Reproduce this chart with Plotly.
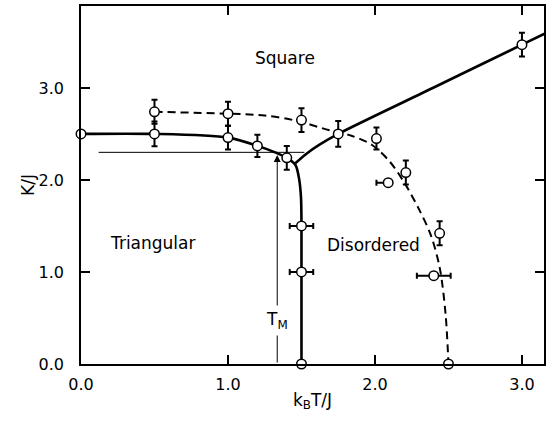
import plotly.graph_objects as go

# ---- phase boundary guide curves (k_B T/J, K/J) ----
tri_curve_t = [0.0, 0.5, 1.0, 1.2, 1.4, 1.46, 1.485, 1.497, 1.5, 1.5]
tri_curve_k = [2.5, 2.5, 2.46, 2.37, 2.24, 2.16, 2.0, 1.8, 1.5, 0.0]

sq_curve_t = [1.45, 1.53, 1.62, 1.75, 2.4, 3.0, 3.2]
sq_curve_k = [2.17, 2.28, 2.38, 2.5, 3.004, 3.47, 3.625]

dis_curve_t = [0.5, 1.0, 1.25, 1.46, 1.69, 1.84, 1.98, 2.1, 2.2, 2.3, 2.38, 2.44, 2.48, 2.5]
dis_curve_k = [2.74, 2.72, 2.70, 2.645, 2.54, 2.48, 2.38, 2.2, 1.97, 1.68, 1.4, 1.05, 0.55, 0.0]

# ---- simulation points ----
# solid-boundary points with vertical error bars
solid_t = [0.5, 1.0, 1.2, 1.4, 1.75, 3.0]
solid_k = [2.5, 2.46, 2.37, 2.24, 2.5, 3.47]
solid_dk = [0.135, 0.13, 0.12, 0.13, 0.14, 0.13]

# dashed-boundary points with vertical error bars
dash_t = [0.5, 1.0, 1.5, 2.01, 2.21, 2.44]
dash_k = [2.74, 2.72, 2.65, 2.45, 2.08, 1.42]
dash_dk = [0.13, 0.13, 0.13, 0.12, 0.13, 0.13]

# points with horizontal (temperature) error bars
hpts_t = [1.5, 1.5, 2.4]
hpts_k = [1.5, 1.0, 0.96]
hpts_dt = [0.08, 0.08, 0.115]

# point with a one-sided temperature error bar
one_t = [2.09]
one_k = [1.97]
one_dt_minus = [0.08]

# exact points without error bars
exact_t = [0.0, 1.5, 2.5]
exact_k = [2.5, 0.0, 0.0]

# melting temperature marker
tm_t = 1.335
tm_k = 2.27
tm_ref_k = 2.30
tm_ref_t = [0.12, 1.52]
tm_label_k = 0.47

# ---- axis ticks ----
x_ticks = [0.0, 1.0, 2.0, 3.0]
x_ticklabels = ["0.0", "1.0", "2.0", "3.0"]
y_ticks = [0.0, 1.0, 2.0, 3.0]
y_ticklabels = ["0.0", "1.0", "2.0", "3.0"]

FONT = "DejaVu Sans"
marker = dict(symbol="circle", size=9.5, color="white", line=dict(color="black", width=1.5))

fig = go.Figure()

# thin reference line at T_M level
fig.add_trace(go.Scatter(x=tm_ref_t, y=[tm_ref_k, tm_ref_k], mode="lines",
                         line=dict(color="black", width=1), hoverinfo="skip"))

# boundaries
fig.add_trace(go.Scatter(x=dis_curve_t, y=dis_curve_k, mode="lines",
                         line=dict(color="black", width=2, dash="8px,5px", shape="spline", smoothing=0.9)))
fig.add_trace(go.Scatter(x=tri_curve_t, y=tri_curve_k, mode="lines",
                         line=dict(color="black", width=2.6, shape="spline", smoothing=0.8)))
fig.add_trace(go.Scatter(x=sq_curve_t, y=sq_curve_k, mode="lines",
                         line=dict(color="black", width=2.6, shape="spline", smoothing=0.8)))

# data points
fig.add_trace(go.Scatter(x=solid_t, y=solid_k, mode="markers", marker=marker,
                         error_y=dict(type="data", array=solid_dk, color="black", thickness=2, width=3)))
fig.add_trace(go.Scatter(x=dash_t, y=dash_k, mode="markers", marker=marker,
                         error_y=dict(type="data", array=dash_dk, color="black", thickness=2, width=3)))
fig.add_trace(go.Scatter(x=hpts_t, y=hpts_k, mode="markers", marker=marker,
                         error_x=dict(type="data", array=hpts_dt, color="black", thickness=2, width=3)))
fig.add_trace(go.Scatter(x=one_t, y=one_k, mode="markers", marker=marker,
                         error_x=dict(type="data", symmetric=False, array=[0.0],
                                      arrayminus=one_dt_minus, color="black", thickness=2, width=3)))
fig.add_trace(go.Scatter(x=exact_t, y=exact_k, mode="markers", marker=marker, cliponaxis=False))

# arrow marking T_M
fig.add_annotation(x=tm_t, y=tm_k, ax=tm_t, ay=0.0, xref="x", yref="y", axref="x", ayref="y",
                   text="", showarrow=True, arrowhead=2, arrowsize=1.4, arrowwidth=1, arrowcolor="black")
fig.add_annotation(x=tm_t, y=tm_label_k, xref="x", yref="y", text="T<sub>M</sub>", showarrow=False,
                   bgcolor="white", borderpad=3, font=dict(family=FONT, size=17, color="black"))

# phase labels
for txt, tx, ty in [("Square", 1.39, 3.33), ("Triangular", 0.49, 1.32), ("Disordered", 1.99, 1.29)]:
    fig.add_annotation(x=tx, y=ty, xref="x", yref="y", text=txt, showarrow=False,
                       font=dict(family=FONT, size=17, color="black"))

axis_common = dict(showline=True, linecolor="black", linewidth=1.5, mirror="ticks",
                   ticks="inside", ticklen=9, tickwidth=1.5, tickcolor="black",
                   showgrid=False, zeroline=False,
                   tickfont=dict(family=FONT, size=16, color="black"))

fig.update_xaxes(range=[0, 3.15], tickvals=x_ticks, ticktext=x_ticklabels,
                 ticklabelstandoff=5,
                 title=dict(text="k<sub>B</sub>T/J", font=dict(family=FONT, size=17, color="black"), standoff=1),
                 **axis_common)
fig.update_yaxes(range=[0, 3.89], tickvals=y_ticks, ticktext=y_ticklabels,
                 ticklabelstandoff=12,
                 title=dict(text="K/J", font=dict(family=FONT, size=17, color="black"), standoff=0),
                 **axis_common)

fig.update_layout(width=546, height=423, margin=dict(l=81, r=0, t=6, b=59, pad=0),
                  paper_bgcolor="white", plot_bgcolor="white", showlegend=False,
                  font=dict(family=FONT, color="black"))

fig.write_html("out.html")
